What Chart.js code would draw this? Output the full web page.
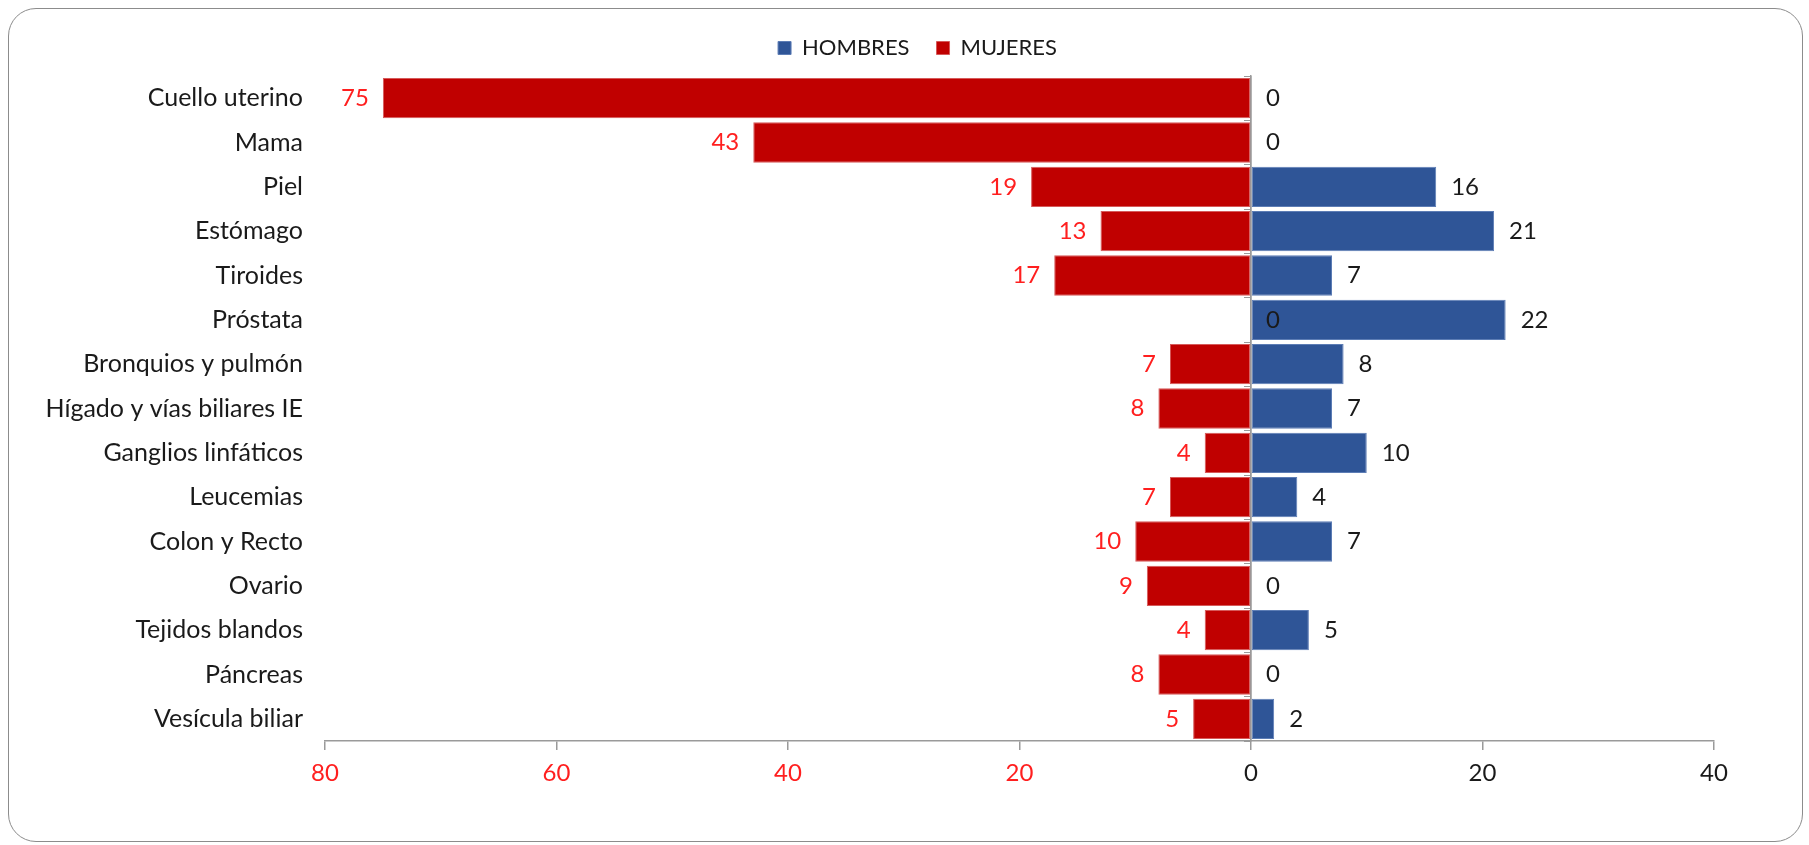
<!DOCTYPE html>
<html lang="es">
<head>
    <meta charset="UTF-8">
    <title>Casos por localización y sexo</title>
    <script src="https://cdn.jsdelivr.net/npm/chart.js"></script>
    <style>
        html, body {
            margin: 0;
            padding: 0;
            background: #ffffff;
        }
        .frame {
            position: absolute;
            left: 8px;
            top: 8px;
            width: 1793px;
            height: 832px;
            border: 1px solid #8c8c8c;
            border-radius: 28px;
        }
        .wrap {
            position: absolute;
            left: 0;
            top: 0;
            width: 1809px;
            height: 845px;
        }
    </style>
</head>
<body>

    <div class="frame"></div>
    <div class="wrap"><canvas id="chart" width="1809" height="845"></canvas></div>

    <script>
        const categories = [
            "Cuello uterino", "Mama", "Piel", "Estómago", "Tiroides", "Próstata",
            "Bronquios y pulmón", "Hígado y vías biliares IE", "Ganglios linfáticos",
            "Leucemias", "Colon y Recto", "Ovario", "Tejidos blandos", "Páncreas",
            "Vesícula biliar"
        ];
        const hombres = [0, 0, 16, 21, 7, 22, 8, 7, 10, 4, 7, 0, 5, 0, 2];
        const mujeres = [75, 43, 19, 13, 17, 0, 7, 8, 4, 7, 10, 9, 4, 8, 5];
        const xTicks = [-80, -60, -40, -20, 0, 20, 40];

        const FONT = "Lato, 'Open Sans', sans-serif";
        const RED_TEXT = "#ff1f1f";
        const DARK_TEXT = "#1a1a1a";
        const AXIS_GREY = "#9a9a9a";

        // etiquetas de valor al final de cada barra
        const valueLabels = {
            id: "valueLabels",
            afterDatasetsDraw(chart) {
                const ctx = chart.ctx;
                const zero = chart.scales.x.getPixelForValue(0);
                ctx.save();
                ctx.font = "24px " + FONT;
                ctx.textBaseline = "middle";
                chart.data.datasets.forEach((ds, i) => {
                    const meta = chart.getDatasetMeta(i);
                    meta.data.forEach((bar, j) => {
                        const v = ds.raw[j];
                        if (ds.side === "h" || v === 0) {
                            ctx.fillStyle = DARK_TEXT;
                            ctx.textAlign = "left";
                            const x = ds.side === "h" ? bar.x : zero;
                            ctx.fillText(String(v), x + 15, bar.y);
                        } else {
                            ctx.fillStyle = RED_TEXT;
                            ctx.textAlign = "right";
                            ctx.fillText(String(v), bar.x - 14, bar.y);
                        }
                    });
                });
                ctx.restore();
            }
        };

        const ctx = document.getElementById("chart").getContext("2d");
        new Chart(ctx, {
            type: "bar",
            data: {
                labels: categories,
                datasets: [
                    {
                        label: "HOMBRES",
                        side: "h",
                        raw: hombres,
                        data: hombres,
                        backgroundColor: "#2f5597",
                        borderColor: "#5d7db5",
                        borderWidth: 1,
                        borderSkipped: false
                    },
                    {
                        label: "MUJERES",
                        side: "m",
                        raw: mujeres,
                        data: mujeres.map(v => -v),
                        backgroundColor: "#c00000",
                        borderColor: "#d65a5a",
                        borderWidth: 1,
                        borderSkipped: false
                    }
                ]
            },
            options: {
                indexAxis: "y",
                responsive: false,
                animation: false,
                devicePixelRatio: 1,
                layout: {
                    padding: { top: 10, right: 0, bottom: 0, left: 26 }
                },
                datasets: {
                    bar: { barPercentage: 1, categoryPercentage: 0.91 }
                },
                scales: {
                    x: {
                        stacked: true,
                        min: -80,
                        max: 40,
                        afterBuildTicks: axis => {
                            axis.ticks = xTicks.map(v => ({ value: v }));
                        },
                        afterFit: axis => { axis.height = 104; },
                        grid: {
                            color: c => c.tick && c.tick.value === 0 ? AXIS_GREY : "transparent",
                            tickColor: AXIS_GREY,
                            tickLength: 9,
                            lineWidth: 1.5
                        },
                        border: { display: true, color: AXIS_GREY, width: 1.5 },
                        ticks: {
                            padding: 9,
                            font: { family: FONT, size: 24 },
                            color: c => c.tick.value < 0 ? RED_TEXT : DARK_TEXT,
                            callback: v => Math.abs(v)
                        }
                    },
                    // separación entre la leyenda y el área de trazado
                    xTop: {
                        type: "linear",
                        position: "top",
                        min: 0,
                        max: 1,
                        afterFit: axis => { axis.height = 7; },
                        grid: { display: false },
                        border: { display: false },
                        ticks: { display: false }
                    },
                    y: {
                        stacked: true,
                        afterFit: axis => { axis.width = 299; },
                        grid: { display: false },
                        border: { display: false },
                        ticks: {
                            padding: 14,
                            font: { family: FONT, size: 25 },
                            color: DARK_TEXT
                        }
                    },
                    y2: {
                        type: "category",
                        labels: categories,
                        position: { x: 0 },
                        grid: {
                            offset: true,
                            drawOnChartArea: false,
                            tickLength: 6,
                            color: AXIS_GREY
                        },
                        border: { display: true, color: AXIS_GREY, width: 1.5 },
                        ticks: { display: false }
                    },
                    // espacio vacío a la derecha del área de trazado
                    yRight: {
                        type: "category",
                        labels: categories,
                        position: "right",
                        afterFit: axis => { axis.width = 95; },
                        grid: { display: false },
                        border: { display: false },
                        ticks: { display: false }
                    }
                },
                plugins: {
                    legend: {
                        position: "top",
                        labels: {
                            boxWidth: 13,
                            boxHeight: 13,
                            padding: 27,
                            color: DARK_TEXT,
                            font: { family: FONT, size: 22 }
                        }
                    },
                    tooltip: { enabled: false }
                }
            },
            plugins: [valueLabels]
        });
    </script>

</body>
</html>
